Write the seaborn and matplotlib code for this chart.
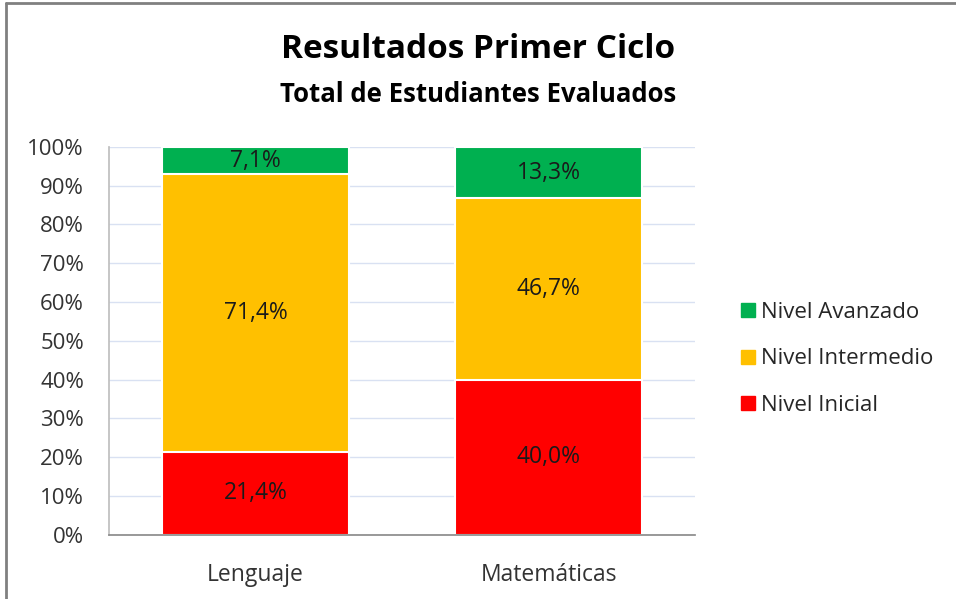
import matplotlib
matplotlib.use("Agg")
import matplotlib.pyplot as plt
from matplotlib.lines import Line2D
import numpy as np
import pandas as pd
import seaborn as sns

materias = ["Lenguaje", "Matemáticas"]
nivel_inicial = [21.4, 40.0]
nivel_intermedio = [71.4, 46.7]
nivel_avanzado = [7.1, 13.3]

niveles = ["Nivel Avanzado", "Nivel Intermedio", "Nivel Inicial"]
colores = {"Nivel Avanzado": "#00B050", "Nivel Intermedio": "#FFC000", "Nivel Inicial": "#FF0000"}

sns.set_theme(style="white")
plt.rcParams["font.family"] = ["Open Sans", "DejaVu Sans"]

df = pd.DataFrame({
    "materia": materias,
    "Nivel Inicial": nivel_inicial,
    "Nivel Intermedio": nivel_intermedio,
    "Nivel Avanzado": nivel_avanzado,
})
total = df[["Nivel Inicial", "Nivel Intermedio", "Nivel Avanzado"]].sum(axis=1)
# 100% stacked: normalise each column
df["top_inicial"] = df["Nivel Inicial"] / total * 100
df["top_intermedio"] = (df["Nivel Inicial"] + df["Nivel Intermedio"]) / total * 100
df["top_avanzado"] = 100.0

fig = plt.figure(figsize=(9.56, 5.99), dpi=100)
ax = fig.add_axes([0.114, 0.107, 0.613, 0.648])

ax.set_axisbelow(True)
ax.yaxis.grid(True, color="#D9E1F2", linewidth=1)

for col, nivel in [("top_avanzado", "Nivel Avanzado"),
                   ("top_intermedio", "Nivel Intermedio"),
                   ("top_inicial", "Nivel Inicial")]:
    sns.barplot(data=df, x="materia", y=col, color=colores[nivel], width=0.64,
                edgecolor="white", linewidth=1.5, saturation=1, ax=ax)

# segment labels
for i in range(len(materias)):
    bottoms = [0, df.loc[i, "top_inicial"], df.loc[i, "top_intermedio"]]
    tops = [df.loc[i, "top_inicial"], df.loc[i, "top_intermedio"], 100]
    vals = [nivel_inicial[i], nivel_intermedio[i], nivel_avanzado[i]]
    for b, t, v in zip(bottoms, tops, vals):
        ax.text(i, (b + t) / 2, f"{v:.1f}%".replace(".", ","), ha="center",
                va="center", fontsize=16.5, color="#1a1a1a")

ax.set_ylim(0, 100)
ax.set_xlim(-0.5, 1.5)
ax.set_yticks(np.arange(0, 101, 10))
ax.set_yticklabels([f"{t}%" for t in range(0, 101, 10)])
ax.tick_params(axis="y", labelsize=16, colors="#333333", pad=18, length=0)
ax.tick_params(axis="x", labelsize=16.5, colors="#333333", pad=20, length=0)
ax.set_xlabel("")
ax.set_ylabel("")
for s in ["top", "right"]:
    ax.spines[s].set_visible(False)
ax.spines["left"].set_color("#BFBFBF")
ax.spines["bottom"].set_color("#8C8C8C")

fig.text(0.5, 0.918, "Resultados Primer Ciclo", ha="center", va="center",
         fontsize=24, fontweight="bold", color="black")
fig.text(0.5, 0.843, "Total de Estudiantes Evaluados", ha="center", va="center",
         fontsize=18.5, fontweight="bold", color="black")

handles = [Line2D([0], [0], marker="s", linestyle="", markersize=10,
                  markerfacecolor=colores[n], markeredgecolor=colores[n]) for n in niveles]
fig.legend(handles, niveles, loc="center left", bbox_to_anchor=(0.75, 0.401),
           frameon=False, fontsize=16, labelspacing=1.15, handletextpad=0.1,
           handlelength=1.0)

# frame lines at top and left, as in the cropped source
fig.add_artist(Line2D([0.006, 0.006], [0, 0.995], color="#808080", linewidth=2,
                      transform=fig.transFigure))
fig.add_artist(Line2D([0.006, 1], [0.995, 0.995], color="#808080", linewidth=2,
                      transform=fig.transFigure))

fig.savefig("out.png", dpi=100)
plt.close(fig)
